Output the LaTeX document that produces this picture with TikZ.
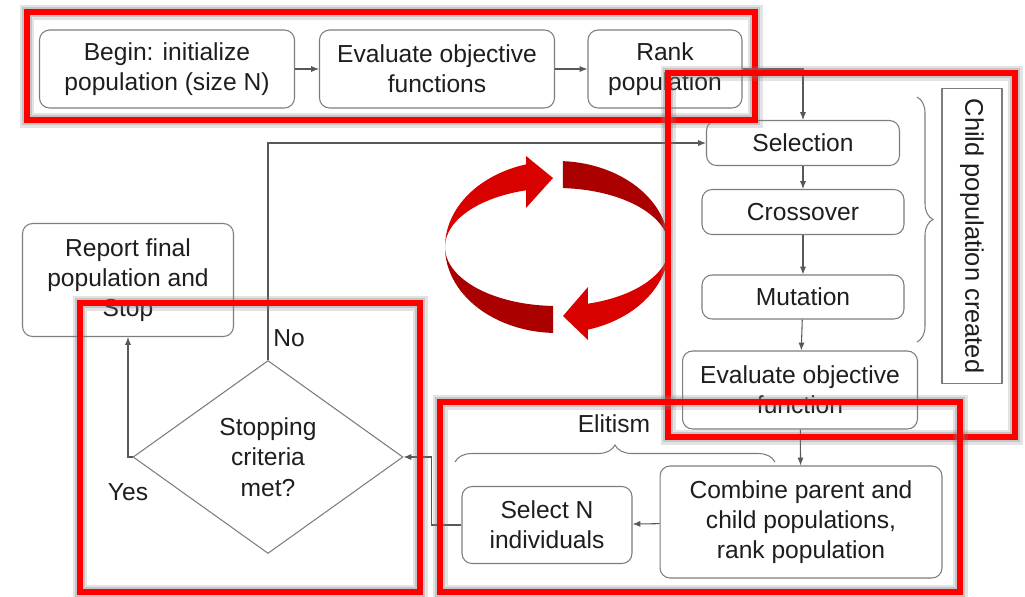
\documentclass[tikz,border=0pt]{standalone}
\usepackage{fontspec}
\setmainfont{Liberation Sans}
\usetikzlibrary{positioning, shapes.geometric, arrows.meta, decorations.pathreplacing}

\definecolor{cycbright}{RGB}{217,0,0}
\definecolor{cycdark}{RGB}{170,0,0}
\definecolor{framered}{RGB}{255,0,0}
\definecolor{boxline}{RGB}{125,125,125}
\definecolor{txt}{RGB}{30,30,30}

\begin{document}
\begin{tikzpicture}[x=0.02cm, y=-0.02cm,
  stepbox/.style={draw=boxline, line width=0.6pt, rounded corners=0.2cm,
                  align=center, inner sep=2pt, text=txt,
                  font=\fontsize{14pt}{17pt}\selectfont},
  decision/.style={diamond, draw=boxline, line width=0.6pt, shape aspect=1.4,
                   inner sep=0pt, align=center, text=txt,
                   minimum width=5.4cm, minimum height=3.86cm,
                   font=\fontsize{14pt}{17.5pt}\selectfont},
  lbl/.style={text=txt, inner sep=0pt, font=\fontsize{14pt}{17pt}\selectfont},
  arr/.style={draw=boxline!70!black, line width=0.6pt,
              -{Latex[length=4.5pt,width=3.5pt]}},
  bracebar/.style={draw=boxline, line width=0.6pt, decorate},
  hilite/.style={draw=framered, line width=0.11cm},
  hiliteshadow/.style={draw=gray, line width=0.30cm, opacity=0.22},
  hiliteshadowin/.style={draw=gray, line width=0.19cm, opacity=0.3}
]
  \useasboundingbox[fill=white] (0,0) rectangle (1025,596);

  % parent population
  \node[stepbox, minimum width=5.1cm, minimum height=1.56cm] (begin) at (167,69)
    {Begin: initialize\\population (size N)};
  \node[stepbox, minimum width=4.7cm, minimum height=1.56cm] (evalobj) at (437,69)
    {Evaluate objective\\functions};
  \node[stepbox, minimum width=3.08cm, minimum height=1.56cm] (rank) at (665,69)
    {Rank\\population};

  % child population
  \node[stepbox, minimum width=3.86cm, minimum height=0.9cm] (select) at (803,143) {Selection};
  \node[stepbox, minimum width=4.04cm, minimum height=0.9cm] (cross) at (803,212) {Crossover};
  \node[stepbox, minimum width=4.04cm, minimum height=0.88cm] (mut) at (803,297) {Mutation};
  \node[stepbox, minimum width=4.7cm, minimum height=1.56cm] (evalf) at (800,390)
    {Evaluate objective\\function};
  \node[stepbox, rounded corners=0pt, rotate=-90, minimum width=5.9cm,
        minimum height=1.2cm, font=\fontsize{14.5pt}{17pt}\selectfont] (child) at (972,236)
    {Child population created};

  % elitism
  \node[stepbox, minimum width=5.64cm, minimum height=2.24cm] (combine) at (801,522)
    {Combine parent and\\child populations,\\rank population};
  \node[stepbox, minimum width=3.4cm, minimum height=1.54cm] (selectn) at (547,525)
    {Select N\\individuals};

  % stopping
  \node[decision] (stop) at (268,457) {Stopping\\criteria\\met?};
  \node[stepbox, minimum width=4.22cm, minimum height=2.26cm] (report) at (128,280)
    {Report final\\population and\\Stop};

  \node[lbl] (nolbl) at (289,338) {No};
  \node[lbl] (yeslbl) at (128,492) {Yes};
  \node[lbl] (elitlbl) at (614,424) {Elitism};

  % connectors
  \draw[arr] (begin) -- (evalobj);
  \draw[arr] (evalobj) -- (rank);
  \draw[arr] (rank.east) -| (select.north);
  \foreach \a/\b in {select/cross, cross/mut, mut/evalf, evalf/combine}
    \draw[arr] (\a) -- (\b);
  \draw[arr] (combine) -- (selectn);
  \draw[arr] (selectn.west) -- ++(-30,0) |- (stop.east);
  \draw[arr] (stop.north) |- (select.west);
  \draw[arr] (stop.west) -| (report.south);

  % braces
  \draw[bracebar, decoration={brace, amplitude=0.32cm}] (917,97) -- (917,342);
  \draw[bracebar, decoration={brace, amplitude=0.34cm}] (455,462) -- (775,462);

  % cycle arrows
  \fill[cycbright] plot[domain=180:254, samples=30] ({557+112*cos(\x)},{247+86*sin(\x)})
    -- (526,156) -- (553,178) -- (526,208)
    -- plot[domain=254:180, samples=30] ({557+112*cos(\x)},{247+59*sin(\x)}) -- cycle;
  \fill[cycdark] plot[domain=273:360, samples=30] ({557+112*cos(\x)},{247+86*sin(\x)})
    -- plot[domain=360:273, samples=30] ({557+112*cos(\x)},{247+59*sin(\x)}) -- cycle;
  \fill[cycbright] plot[domain=0:74, samples=30] ({557+112*cos(\x)},{247+86*sin(\x)})
    -- (588,340) -- (563,316) -- (588,287)
    -- plot[domain=74:0, samples=30] ({557+112*cos(\x)},{247+59*sin(\x)}) -- cycle;
  \fill[cycdark] plot[domain=92:180, samples=30] ({557+112*cos(\x)},{247+86*sin(\x)})
    -- plot[domain=180:92, samples=30] ({557+112*cos(\x)},{247+59*sin(\x)}) -- cycle;

  % highlight frames
  \foreach \xa/\ya/\xb/\yb in {27/12/755/120, 668/73/1015/437, 80/303/420/592, 440/402/960/592}{
    \draw[hiliteshadow] (\xa,\ya) rectangle (\xb,\yb);
    \draw[hiliteshadowin] (\xa,\ya) rectangle (\xb,\yb);
    \draw[hilite] (\xa,\ya) rectangle (\xb,\yb);
  }
\end{tikzpicture}
\end{document}
